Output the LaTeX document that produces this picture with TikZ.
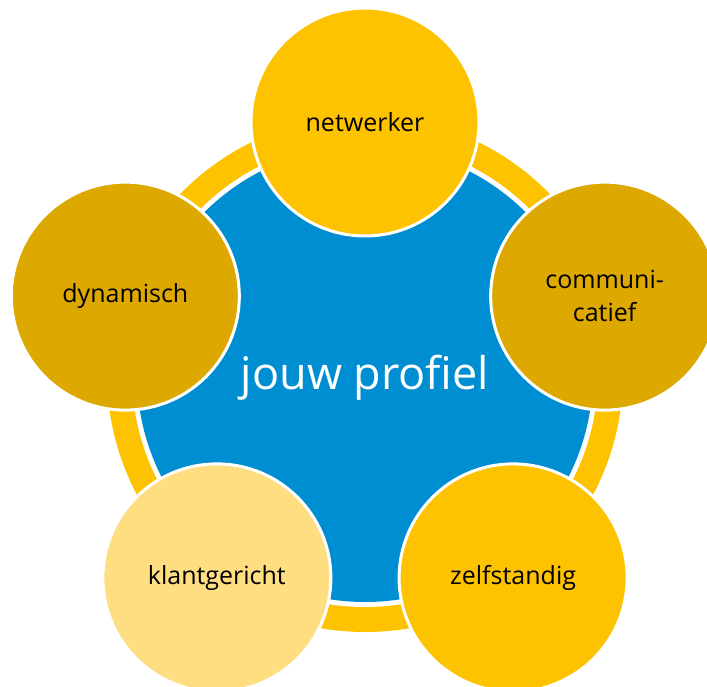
\documentclass[tikz,border=0pt]{standalone}
\usepackage{fontspec}
\setmainfont{Open Sans}
\definecolor{geel}{HTML}{FDC300}
\definecolor{goud}{HTML}{DDA800}
\definecolor{lichtgeel}{HTML}{FEDE80}
\definecolor{blauw}{HTML}{008ED3}
\tikzset{
  bol/.style={circle,draw=white,line width=3pt,minimum size=228pt,inner sep=0pt,
    align=center,font=\fontsize{25}{33}\selectfont}
}
\begin{document}
\begin{tikzpicture}[x=1pt,y=1pt]
            \useasboundingbox (-365,-312) rectangle (342,374);
            % ring and centre
            \fill [geel] (0,0) circle (258);
            \fill [white] (0,0) circle (233);
            \node [circle,fill=blauw,minimum size=456pt,inner sep=0pt] (profiel) at (0,0) {};
            \node [text=white,font=\fontsize{45}{50}\selectfont] (profieltekst) at (0,-4) {jouw profiel};
            % five circles round it
            \node [bol,fill=geel] (netwerker) at (90:252) {netwerker};
            \node [bol,fill=goud] (communicatief) at (18:252) {communi-\\catief};
            \node [bol,fill=geel] (zelfstandig) at (-54:252) {zelfstandig};
            \node [bol,fill=lichtgeel] (klantgericht) at (234:252) {klantgericht};
            \node [bol,fill=goud] (dynamisch) at (162:252) {dynamisch};
        \end{tikzpicture}
\end{document}
